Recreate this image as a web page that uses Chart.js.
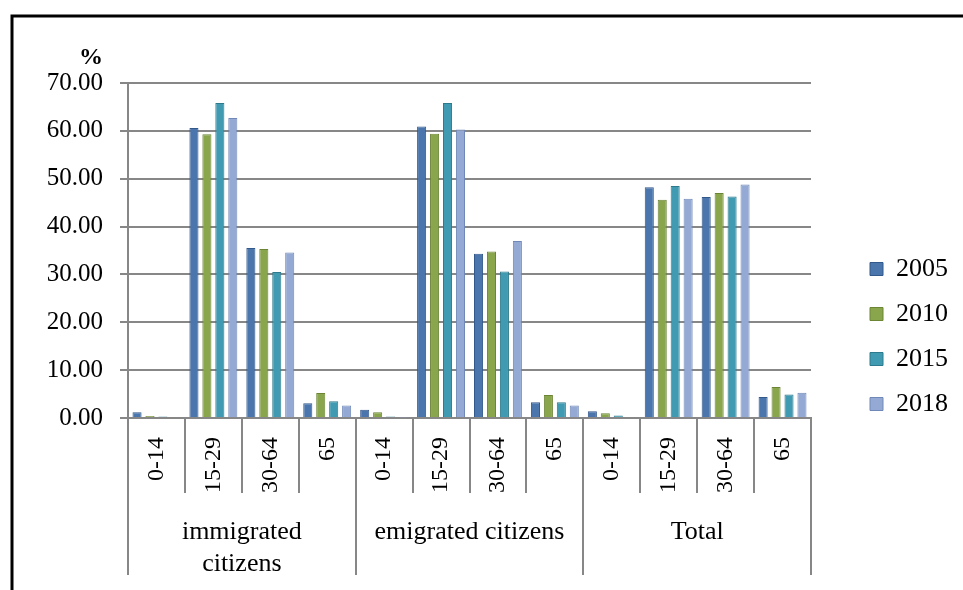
<!DOCTYPE html>
<html><head><meta charset="utf-8">
<script src="https://cdn.jsdelivr.net/npm/chart.js@4"></script>
<style>html,body{margin:0;padding:0;background:#fff;}#wrap{width:963px;height:590px;position:relative;}canvas{display:block;}</style>
</head><body><div id="wrap"><canvas id="c" width="963" height="590"></canvas></div>
<script>
const groupLabels = [['immigrated', 'citizens'], 'emigrated citizens', 'Total'];
const ageGroups = ['0-14', '15-29', '30-64', '65'];
const categories = [].concat(ageGroups, ageGroups, ageGroups);
const years = ['2005', '2010', '2015', '2018'];
const values2005 = [1.2, 60.6, 35.5, 3.1, 1.7, 60.9, 34.3, 3.3, 1.4, 48.2, 46.2, 4.4];
const values2010 = [0.4, 59.3, 35.3, 5.2, 1.2, 59.4, 34.8, 4.8, 1.0, 45.6, 47.0, 6.5];
const values2015 = [0.3, 65.8, 30.5, 3.5, 0.3, 65.8, 30.6, 3.3, 0.5, 48.5, 46.3, 4.9];
const values2018 = [0.2, 62.7, 34.6, 2.6, 0.1, 60.3, 37.0, 2.6, 0.2, 45.8, 48.8, 5.3];
const yTicks = [0, 10, 20, 30, 40, 50, 60, 70];

const series = [values2005, values2010, values2015, values2018];
const fills = ['#4a76ad', '#8aa64c', '#409bb2', '#94aad4'];
const edges = ['#33588a', '#6b8535', '#2d7a8d', '#7088b8'];
const SERIF = "'Liberation Serif', 'Times New Roman', serif";
const GRID = '#878787';

const frame = {
  id: 'frame',
  afterLayout(chart) {
    const lg = chart.legend;
    if (lg) { lg.left += 40; lg.right += 40; }
  },
  afterDraw(chart) {
    const ctx = chart.ctx;
    ctx.save();
    ctx.strokeStyle = '#000';
    ctx.lineWidth = 3;
    ctx.beginPath();
    ctx.moveTo(12, 590);
    ctx.lineTo(12, 16);
    ctx.lineTo(963, 16);
    ctx.stroke();
    ctx.fillStyle = '#000';
    ctx.font = 'bold 24px ' + SERIF;
    ctx.textAlign = 'center';
    ctx.textBaseline = 'middle';
    ctx.fillText('%', 91, 58);
    ctx.restore();
  }
};

new Chart(document.getElementById('c'), {
  type: 'bar',
  data: {
    labels: categories,
    datasets: years.map((y, i) => ({
      label: y,
      data: series[i],
      backgroundColor: fills[i],
      borderColor: edges[i],
      borderWidth: 1,
      categoryPercentage: 0.91,
      barPercentage: 0.7
    }))
  },
  options: {
    responsive: false,
    animation: false,
    layout: { padding: { left: 20, top: 83, right: 45, bottom: 0 } },
    plugins: {
      legend: {
        position: 'right',
        labels: {
          boxWidth: 13, boxHeight: 13, padding: 19, color: '#000',
          font: { family: SERIF, size: 26 }
        }
      },
      tooltip: { enabled: false }
    },
    scales: {
      x: {
        type: 'category',
        position: 'bottom',
        grid: { offset: true, drawOnChartArea: false, tickLength: 75, color: GRID, lineWidth: 2 },
        border: { color: GRID, width: 2 },
        ticks: { minRotation: 90, maxRotation: 90, autoSkip: false, padding: -56, color: '#000', font: { family: SERIF, size: 24 } },
        afterFit: (s) => { s.height = 75; }
      },
      x2: {
        type: 'category',
        labels: groupLabels,
        position: 'bottom',
        offset: true,
        grid: { offset: true, drawOnChartArea: false, tickLength: 82, color: GRID, lineWidth: 2 },
        border: { display: false },
        ticks: { padding: -58, color: '#000', font: { family: SERIF, size: 26 }, maxRotation: 0, autoSkip: false },
        afterFit: (s) => { s.height = 97; }
      },
      y: {
        min: 0, max: 70,
        afterBuildTicks: (s) => { s.ticks = yTicks.map(v => ({ value: v })); },
        ticks: { padding: 17, color: '#000', font: { family: SERIF, size: 25 }, callback: (v) => Number(v).toFixed(2) },
        grid: { color: GRID, lineWidth: 2, tickLength: 8 },
        border: { color: GRID, width: 2 },
        afterFit: (s) => { s.width = 108; }
      }
    }
  },
  plugins: [frame]
});
</script>
</body></html>
